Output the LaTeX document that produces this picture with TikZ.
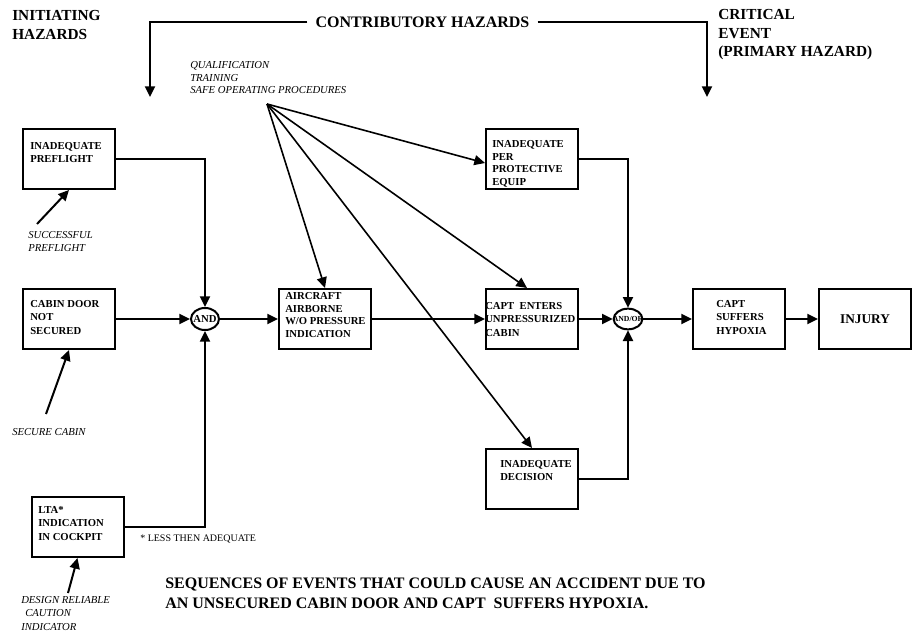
\documentclass[tikz,border=0pt]{standalone}
\usepackage{fontspec}
\setmainfont{Liberation Serif}
\usetikzlibrary{arrows.meta,shapes.geometric,calc}

\begin{document}
\begin{tikzpicture}[x=0.75pt,y=-0.75pt,
    >={Triangle[length=8pt,width=7.5pt]},
    blk/.style={draw,line width=1.5pt,minimum width=69pt,minimum height=45pt,inner sep=0pt},
    gate/.style={draw,ellipse,line width=1.5pt,inner sep=0pt},
    boxtxt/.style={anchor=north west,inner sep=0pt,align=left,font=\bfseries\fontsize{8}{10.2}\selectfont},
    note/.style={anchor=north west,inner sep=0pt,align=left,font=\itshape\fontsize{8}{9.6}\selectfont},
    head/.style={anchor=north west,inner sep=0pt,align=left,font=\bfseries\fontsize{11.5}{14}\selectfont},
    flow/.style={->,line width=1.5pt},
    fan/.style={->,line width=1.2pt}]
    \useasboundingbox (0,0) rectangle (912,634);
    % headings
    \node[head] (init) at (12,10) {INITIATING\\HAZARDS};
    \node[head] (crit) at (718,9) {CRITICAL\\EVENT\\(PRIMARY HAZARD)};
    \node[font=\bfseries\fontsize{12}{14}\selectfont,inner sep=6pt] (contrib) at (422.5,22) {CONTRIBUTORY HAZARDS};
    \coordinate (initarr) at (150,97);
    \coordinate (critarr) at (707,97);
    \draw[flow] (contrib.west) -| (initarr);
    \draw[flow] (contrib.east) -| (critarr);
    % initiating hazards
        \node[blk] (pre) at (69,159) {};
        \node[boxtxt] (pretxt) at (30,142) {INADEQUATE\\PREFLIGHT};
        \node[blk] (door) at (69,319) {};
        \node[boxtxt] (doortxt) at (30,300) {CABIN DOOR\\NOT\\SECURED};
        \node[blk] (lta) at (77.5,527) {};
        \node[boxtxt] (ltatxt) at (38,506) {LTA*\\INDICATION\\IN COCKPIT};
        \node[anchor=north west,inner sep=0pt,font=\fontsize{7.5}{9}\selectfont] (ltanote) at (140,534.5) {* LESS THEN ADEQUATE};
    % safeguards
        \node[note] (sp) at (28,231) {SUCCESSFUL\\PREFLIGHT};
        \coordinate (sptail) at (37,224);
        \draw[flow] (sptail) -- (pre.south);
        \node[note] (sc) at (12,428) {SECURE CABIN};
        \coordinate (sctail) at (46,414);
        \draw[flow] (sctail) -- (door.south);
        \node[note,font=\itshape\fontsize{8}{10}\selectfont] (drc) at (21,596) {DESIGN RELIABLE\\\hspace*{3pt}CAUTION\\INDICATOR};
        \coordinate (drtail) at (68,593);
        \draw[flow] (drtail) -- (lta.south);
    % AND gate
        \node[gate,minimum width=21pt,minimum height=16.5pt] (gand) at (205,319) {};
        \node[font=\bfseries\fontsize{8}{9}\selectfont,inner sep=0pt] (gandtxt) at (gand) {AND};
        \draw[flow] (pre.east) -| (gand.north);
        \draw[flow] (door.east) -- (gand.west);
        \draw[flow] (lta.east) -| (gand.south);
        \node[blk] (air) at (325,319) {};
        \node[boxtxt,font=\bfseries\fontsize{8}{9.6}\selectfont] (airtxt) at (285,292) {AIRCRAFT\\AIRBORNE\\W/O PRESSURE\\INDICATION};
        \draw[flow] (gand.east) -- (air.west);
    % contributory hazards
        \node[blk] (ppe) at (532,159) {};
        \node[boxtxt,font=\bfseries\fontsize{8}{9.6}\selectfont] (ppetxt) at (492,140) {INADEQUATE\\PER\\PROTECTIVE\\EQUIP};
        \node[blk] (cap) at (532,319) {};
        \node[boxtxt] (captxt) at (485,302) {CAPT\ \ ENTERS\\UNPRESSURIZED\\CABIN};
        \node[blk] (dec) at (532,479) {};
        \node[boxtxt] (dectxt) at (500,460) {INADEQUATE\\DECISION};
        \draw[flow] (air.east) -- (cap.west);
        \node[note,font=\itshape\fontsize{8}{9.4}\selectfont] (ctrl) at (190,61.5) {QUALIFICATION\\TRAINING\\SAFE OPERATING PROCEDURES};
        \coordinate (src) at (267,104);
        \draw[fan] (src) -- (air.north);
        \draw[fan] (src) -- ($(ppe.west)+(0,4)$);
        \draw[fan] (src) -- ($(cap.north)+(-5,0)$);
        \draw[fan] (src) -- (dec.north);
    % AND/OR gate and critical event
        \node[gate,minimum width=21.5pt,minimum height=15.5pt] (gor) at (628,319) {};
        \node[font=\bfseries\fontsize{5.8}{6}\selectfont,inner sep=0pt] (gortxt) at (gor) {AND/OR};
        \draw[flow] (ppe.east) -| (gor.north);
        \draw[flow] (cap.east) -- (gor.west);
        \draw[flow] (dec.east) -| (gor.south);
        \node[blk] (hyp) at (739,319) {};
        \node[boxtxt] (hyptxt) at (716,300) {CAPT\\SUFFERS\\HYPOXIA};
        \draw[flow] (gor.east) -- (hyp.west);
        \node[blk,font=\bfseries\fontsize{10}{12}\selectfont] (inj) at (865,319) {INJURY};
        \draw[flow] (hyp.east) -- (inj.west);
    % caption
    \node[anchor=north west,inner sep=0pt,align=left,font=\bfseries\fontsize{12}{15}\selectfont] (title) at (165,578) {SEQUENCES OF EVENTS THAT COULD CAUSE AN ACCIDENT DUE TO\\AN UNSECURED CABIN DOOR AND CAPT\ \ SUFFERS HYPOXIA.};
\end{tikzpicture}
\end{document}
